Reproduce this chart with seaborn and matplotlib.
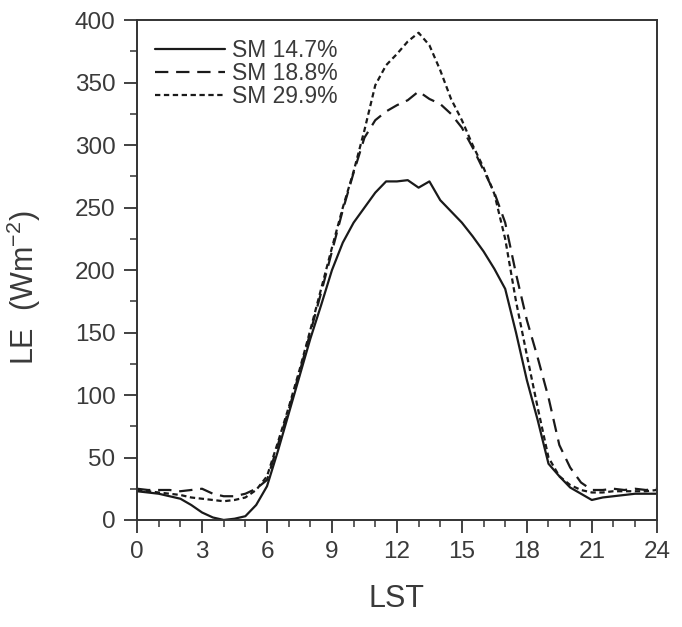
import numpy as np
import pandas as pd
import matplotlib
matplotlib.use("Agg")
import matplotlib.pyplot as plt
from matplotlib.ticker import MultipleLocator
import seaborn as sns

# --- DATA ---
hours = [0, 0.5, 1, 1.5, 2, 2.5, 3, 3.5, 4, 4.5, 5, 5.5, 6, 6.5, 7, 7.5, 8, 8.5,
         9, 9.5, 10, 10.5, 11, 11.5, 12, 12.5, 13, 13.5, 14, 14.5, 15, 15.5, 16,
         16.5, 17, 17.5, 18, 18.5, 19, 19.5, 20, 20.5, 21, 21.5, 22, 22.5, 23,
         23.5, 24]

le_sm147 = [23, 22, 21, 19, 17, 12, 6, 2, 0, 1, 3, 12, 27, 55, 85, 115, 145, 172,
            200, 222, 238, 250, 262, 271, 271, 272, 266, 271, 256, 247, 238, 227,
            215, 201, 185, 150, 112, 80, 45, 35, 26, 21, 16, 18, 19, 20, 21, 21, 21]

le_sm188 = [25, 24, 24, 24, 23, 24, 25, 21, 19, 19, 21, 25, 32, 60, 88, 118, 150,
            182, 215, 248, 278, 306, 320, 327, 332, 336, 343, 337, 333, 325, 314,
            298, 280, 262, 238, 197, 160, 130, 98, 60, 42, 30, 24, 24, 25, 24, 25,
            24, 25]

le_sm299 = [24, 23, 22, 21, 20, 18, 17, 16, 15, 16, 18, 24, 35, 62, 90, 120, 152,
            185, 218, 250, 279, 312, 348, 364, 373, 383, 390, 380, 360, 337, 320,
            300, 282, 261, 225, 175, 132, 90, 50, 35, 28, 24, 22, 22, 23, 23, 23,
            23, 24]

series_names = ["SM 14.7%", "SM 18.8%", "SM 29.9%"]

# --- STYLE ---
sns.set_theme(style="ticks")
plt.rcParams["font.family"] = ["Liberation Sans", "DejaVu Sans"]
plt.rcParams["mathtext.fontset"] = "custom"
plt.rcParams["mathtext.rm"] = "Liberation Sans"
TEXT = "#3a3a3a"


def build_frame():
    frames = []
    for name, vals in zip(series_names, [le_sm147, le_sm188, le_sm299]):
        frames.append(pd.DataFrame({"LST": hours, "LE": vals, "series": name}))
    return pd.concat(frames, ignore_index=True)


def main():
    df = build_frame()

    fig = plt.figure(figsize=(6.82, 6.27), dpi=100)
    ax = fig.add_axes([0.201, 0.1707, 0.762, 0.797])

    sns.lineplot(
        data=df, x="LST", y="LE", hue="series", style="series",
        palette=["#1a1a1a"] * 3,
        dashes={"SM 14.7%": "", "SM 18.8%": (6, 3.5), "SM 29.9%": (2.4, 1.6)},
        linewidth=1.6, ax=ax,
    )

    ax.set_xlim(0, 24)
    ax.set_ylim(0, 400)
    ax.xaxis.set_major_locator(MultipleLocator(3))
    ax.xaxis.set_minor_locator(MultipleLocator(1))
    ax.yaxis.set_major_locator(MultipleLocator(50))
    ax.yaxis.set_minor_locator(MultipleLocator(25))
    ax.tick_params(which="major", direction="out", length=9.5, width=1.3,
                   color="#333333", labelsize=17.5, labelcolor=TEXT, pad=6)
    ax.tick_params(which="minor", direction="out", length=5, width=1.1,
                   color="#333333")
    ax.tick_params(top=False, right=False, which="both")
    for s in ax.spines.values():
        s.set_color("#333333")
        s.set_linewidth(1.4)

    ax.set_xlabel("LST", fontsize=22, color=TEXT, labelpad=15)
    ax.set_ylabel(r"LE  (Wm$^{-2}$)", fontsize=22, color=TEXT)
    ax.yaxis.set_label_coords(-0.181, 0.464)

    leg = ax.legend(loc="upper left", frameon=False, fontsize=16.5,
                    handlelength=3.05, handletextpad=0.3, labelspacing=0.0,
                    borderaxespad=0.4)
    for t in leg.get_texts():
        t.set_color(TEXT)

    fig.savefig("out.png", dpi=100)
    plt.close(fig)


if __name__ == "__main__":
    main()
